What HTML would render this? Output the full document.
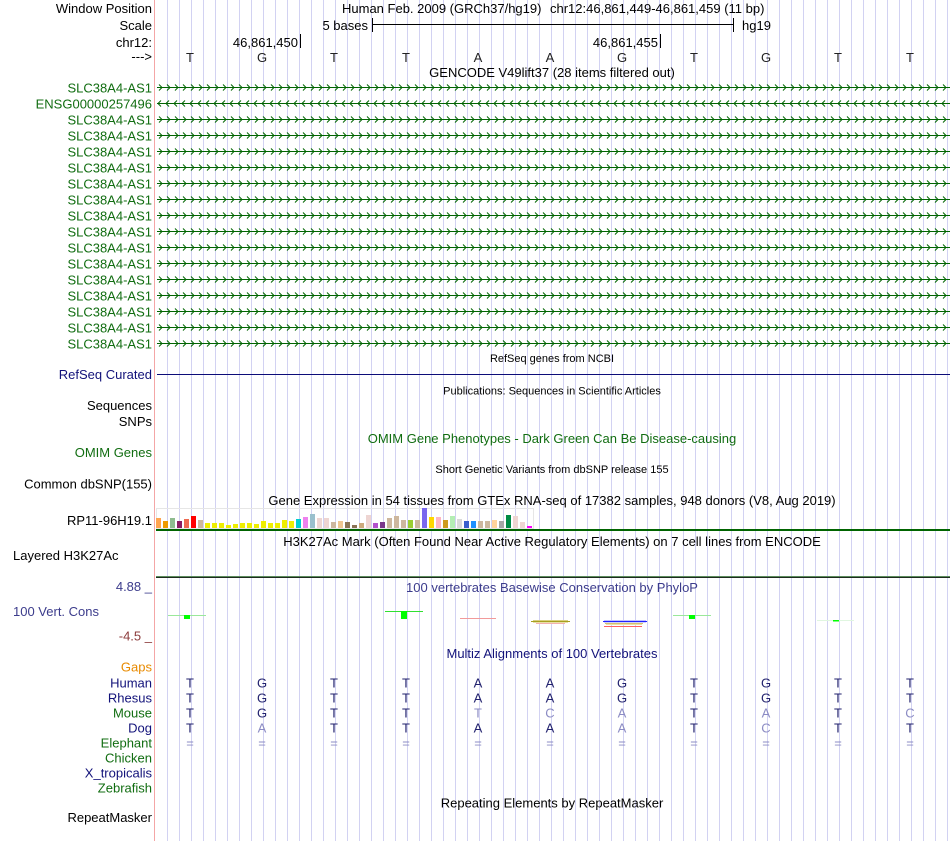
<!DOCTYPE html>
<html>
<head>
<meta charset="utf-8">
<style>
html,body{margin:0;padding:0;background:#fff;}
svg{display:block;}
text{font-family:"Liberation Sans",Arial,Helvetica,sans-serif;font-size:13px;}
.s{font-size:11px;}
.r{text-anchor:end;}
.m{text-anchor:middle;}
.g{fill:#116d11;}
.nv{fill:#12127a;}
.cb{fill:#3c3c8c;}
.dk{fill:#22226e;}
.lt{fill:#8c8cc4;}
</style>
</head>
<body>
<svg width="950" height="841" viewBox="0 0 950 841" xmlns="http://www.w3.org/2000/svg">
<defs>
  <pattern id="grid" patternUnits="userSpaceOnUse" x="167" y="0" width="12" height="841">
    <rect x="0" y="0" width="1" height="841" fill="#d2d2f2"/>
  </pattern>
  <pattern id="fwd" patternUnits="userSpaceOnUse" x="157" y="0" width="8" height="16">
    <rect x="0" y="7" width="8" height="1" fill="#006400"/>
    <path d="M2,4.5 L5,7.5 L2,10.5" stroke="#006400" stroke-width="1" fill="none"/>
  </pattern>
  <pattern id="rev" patternUnits="userSpaceOnUse" x="157" y="0" width="8" height="16">
    <rect x="0" y="7" width="8" height="1" fill="#006400"/>
    <path d="M4,4.5 L1,7.5 L4,10.5" stroke="#006400" stroke-width="1" fill="none"/>
  </pattern>
</defs>

<rect x="0" y="0" width="950" height="841" fill="#fff"/>
<rect x="167" y="0" width="783" height="841" fill="url(#grid)"/>
<rect x="154" y="0" width="1" height="841" fill="#f4a6a6"/>

<!-- Header -->
<text x="152" y="13" class="r">Window Position</text>
<text x="342" y="13">Human Feb. 2009 (GRCh37/hg19)</text>
<text x="550" y="13">chr12:46,861,449-46,861,459 (11 bp)</text>
<text x="152" y="30" class="r">Scale</text>
<text x="368" y="30" class="r">5 bases</text>
<rect x="372" y="24" width="361" height="1" fill="#000"/>
<rect x="372" y="18" width="1" height="14" fill="#000"/>
<rect x="733" y="18" width="1" height="14" fill="#000"/>
<text x="742" y="30">hg19</text>
<text x="152" y="47" class="r">chr12:</text>
<text x="298" y="47" class="r">46,861,450</text>
<rect x="300" y="34" width="1" height="14" fill="#000"/>
<text x="658" y="47" class="r">46,861,455</text>
<rect x="660" y="34" width="1" height="14" fill="#000"/>
<text x="152" y="61" class="r">---&gt;</text>
<g fill="#222">
<text x="190" y="62" class="m">T</text>
<text x="262" y="62" class="m">G</text>
<text x="334" y="62" class="m">T</text>
<text x="406" y="62" class="m">T</text>
<text x="478" y="62" class="m">A</text>
<text x="550" y="62" class="m">A</text>
<text x="622" y="62" class="m">G</text>
<text x="694" y="62" class="m">T</text>
<text x="766" y="62" class="m">G</text>
<text x="838" y="62" class="m">T</text>
<text x="910" y="62" class="m">T</text>
</g>
<text x="552" y="77" class="m">GENCODE V49lift37 (28 items filtered out)</text>

<!-- GENCODE rows -->
<rect x="157" y="84" width="793" height="7" fill="url(#fwd)"/>
<rect x="157" y="100" width="793" height="7" fill="url(#rev)"/>
<rect x="157" y="116" width="793" height="231" fill="url(#fwd)"/>
<g class="g">
<text x="152" y="92.5" class="r">SLC38A4-AS1</text>
<text x="152" y="108.5" class="r">ENSG00000257496</text>
<text x="152" y="124.5" class="r">SLC38A4-AS1</text>
<text x="152" y="140.5" class="r">SLC38A4-AS1</text>
<text x="152" y="156.5" class="r">SLC38A4-AS1</text>
<text x="152" y="172.5" class="r">SLC38A4-AS1</text>
<text x="152" y="188.5" class="r">SLC38A4-AS1</text>
<text x="152" y="204.5" class="r">SLC38A4-AS1</text>
<text x="152" y="220.5" class="r">SLC38A4-AS1</text>
<text x="152" y="236.5" class="r">SLC38A4-AS1</text>
<text x="152" y="252.5" class="r">SLC38A4-AS1</text>
<text x="152" y="268.5" class="r">SLC38A4-AS1</text>
<text x="152" y="284.5" class="r">SLC38A4-AS1</text>
<text x="152" y="300.5" class="r">SLC38A4-AS1</text>
<text x="152" y="316.5" class="r">SLC38A4-AS1</text>
<text x="152" y="332.5" class="r">SLC38A4-AS1</text>
<text x="152" y="348.5" class="r">SLC38A4-AS1</text>
</g>

<!-- RefSeq -->
<text x="552" y="362" class="s m">RefSeq genes from NCBI</text>
<text x="152" y="379" class="r nv">RefSeq Curated</text>
<rect x="157" y="374" width="793" height="1" fill="#0c0c78"/>

<text x="552" y="394.5" class="s m">Publications: Sequences in Scientific Articles</text>
<text x="152" y="410" class="r">Sequences</text>
<text x="152" y="426" class="r">SNPs</text>

<text x="552" y="443" class="m g">OMIM Gene Phenotypes - Dark Green Can Be Disease-causing</text>
<text x="152" y="457" class="r g">OMIM Genes</text>

<text x="552" y="473" class="s m">Short Genetic Variants from dbSNP release 155</text>
<text x="152" y="488.5" class="r">Common dbSNP(155)</text>

<text x="552" y="505" class="m">Gene Expression in 54 tissues from GTEx RNA-seq of 17382 samples, 948 donors (V8, Aug 2019)</text>
<text x="152" y="525" class="r">RP11-96H19.1</text>
<rect x="156.5" y="508.5" width="377" height="20" fill="none" stroke="#e6e6e6" stroke-width="1"/>
<g>
<rect x="156" y="518" width="5" height="10" fill="#FFA54F"/>
<rect x="163" y="521" width="5" height="7" fill="#EE9A00"/>
<rect x="170" y="518" width="5" height="10" fill="#8FBC8F"/>
<rect x="177" y="521" width="5" height="7" fill="#8B1C62"/>
<rect x="184" y="519" width="5" height="9" fill="#EE6A50"/>
<rect x="191" y="516" width="5" height="12" fill="#FF0000"/>
<rect x="198" y="520" width="5" height="8" fill="#CDB79E"/>
<rect x="205" y="523" width="5" height="5" fill="#EEEE00"/>
<rect x="212" y="523" width="5" height="5" fill="#EEEE00"/>
<rect x="219" y="523" width="5" height="5" fill="#EEEE00"/>
<rect x="226" y="525" width="5" height="3" fill="#EEEE00"/>
<rect x="233" y="524" width="5" height="4" fill="#EEEE00"/>
<rect x="240" y="523" width="5" height="5" fill="#EEEE00"/>
<rect x="247" y="523" width="5" height="5" fill="#EEEE00"/>
<rect x="254" y="524" width="5" height="4" fill="#EEEE00"/>
<rect x="261" y="521" width="5" height="7" fill="#EEEE00"/>
<rect x="268" y="523" width="5" height="5" fill="#EEEE00"/>
<rect x="275" y="523" width="5" height="5" fill="#EEEE00"/>
<rect x="282" y="520" width="5" height="8" fill="#EEEE00"/>
<rect x="289" y="521" width="5" height="7" fill="#EEEE00"/>
<rect x="296" y="519" width="5" height="9" fill="#00CED1"/>
<rect x="303" y="517" width="5" height="11" fill="#EE82EE"/>
<rect x="310" y="514" width="5" height="14" fill="#9AC0CD"/>
<rect x="317" y="518" width="5" height="10" fill="#EED5D2"/>
<rect x="324" y="518" width="5" height="10" fill="#EED5D2"/>
<rect x="331" y="522" width="5" height="6" fill="#CDB79E"/>
<rect x="338" y="521" width="5" height="7" fill="#EEC591"/>
<rect x="345" y="522" width="5" height="6" fill="#8B7355"/>
<rect x="352" y="525" width="5" height="3" fill="#8B7355"/>
<rect x="359" y="523" width="5" height="5" fill="#CDAA7D"/>
<rect x="366" y="515" width="5" height="13" fill="#EED5D2"/>
<rect x="373" y="523" width="5" height="5" fill="#B452CD"/>
<rect x="380" y="522" width="5" height="6" fill="#7A378B"/>
<rect x="387" y="518" width="5" height="10" fill="#CDB79E"/>
<rect x="394" y="516" width="5" height="12" fill="#CDB79E"/>
<rect x="401" y="520" width="5" height="8" fill="#CDB79E"/>
<rect x="408" y="520" width="5" height="8" fill="#9ACD32"/>
<rect x="415" y="520" width="5" height="8" fill="#CDB79E"/>
<rect x="422" y="508" width="5" height="20" fill="#7A67EE"/>
<rect x="429" y="517" width="5" height="11" fill="#FFD700"/>
<rect x="436" y="517" width="5" height="11" fill="#FFB6C1"/>
<rect x="443" y="520" width="5" height="8" fill="#CD9B1D"/>
<rect x="450" y="516" width="5" height="12" fill="#B4EEB4"/>
<rect x="457" y="519" width="5" height="9" fill="#D9D9D9"/>
<rect x="464" y="521" width="5" height="7" fill="#3A5FCD"/>
<rect x="471" y="521" width="5" height="7" fill="#1E90FF"/>
<rect x="478" y="521" width="5" height="7" fill="#CDB79E"/>
<rect x="485" y="521" width="5" height="7" fill="#CDB79E"/>
<rect x="492" y="520" width="5" height="8" fill="#FFD39B"/>
<rect x="499" y="521" width="5" height="7" fill="#A6A6A6"/>
<rect x="506" y="515" width="5" height="13" fill="#008B45"/>
<rect x="513" y="516" width="5" height="12" fill="#EED5D2"/>
<rect x="520" y="522" width="5" height="6" fill="#EED5D2"/>
<rect x="527" y="526" width="5" height="2" fill="#FF00FF"/>
</g>
<rect x="156" y="529" width="794" height="2" fill="#006400"/>

<!-- H3K27Ac -->
<text x="552" y="546" class="m">H3K27Ac Mark (Often Found Near Active Regulatory Elements) on 7 cell lines from ENCODE</text>
<text x="13" y="560">Layered H3K27Ac</text>
<rect x="156" y="576" width="794" height="1" fill="#5c8c5c"/>
<rect x="156" y="577" width="794" height="1" fill="#1c2c1c"/>

<!-- Conservation -->
<text x="152" y="591" class="r cb">4.88 _</text>
<text x="552" y="592" class="m cb">100 vertebrates Basewise Conservation by PhyloP</text>
<text x="13" y="616" class="cb">100 Vert. Cons</text>
<text x="152" y="640.5" class="r" fill="#8c3c3c">-4.5 _</text>
<rect x="168" y="615" width="38" height="1" fill="#9ae89a"/>
<rect x="184" y="615" width="6" height="4" fill="#00ff00"/>
<rect x="385" y="611" width="38" height="1" fill="#30e030"/>
<rect x="401" y="611" width="6" height="8" fill="#00ff00"/>
<rect x="460" y="618" width="36" height="1" fill="#f29a9a"/>
<rect x="533" y="620" width="35" height="1" fill="#d8d080"/>
<rect x="531" y="621" width="39" height="1" fill="#a8a020"/>
<rect x="533" y="622" width="35" height="1" fill="#e8e0a8"/>
<rect x="536" y="623" width="29" height="1" fill="#f4b0b0"/>
<rect x="604" y="620" width="42" height="1" fill="#c0c0ff"/>
<rect x="603" y="621" width="44" height="1" fill="#2020ff"/>
<rect x="604" y="622" width="42" height="1" fill="#d0d0f8"/>
<rect x="605" y="623" width="38" height="1" fill="#d0c070"/>
<rect x="606" y="624" width="36" height="1" fill="#e8e0a8"/>
<rect x="604" y="626" width="38" height="1" fill="#ff6060"/>
<rect x="673" y="615" width="38" height="1" fill="#9ae89a"/>
<rect x="689" y="615" width="6" height="4" fill="#00ff00"/>
<rect x="817" y="620" width="37" height="1" fill="#e0f6e0"/>
<rect x="833" y="620" width="6" height="1.5" fill="#00ff00"/>

<!-- Multiz -->
<text x="552" y="658" class="m nv">Multiz Alignments of 100 Vertebrates</text>
<text x="152" y="671.5" class="r" fill="#e88a00">Gaps</text>
<text x="152" y="687.5" class="r nv">Human</text>
<text x="152" y="702.5" class="r nv">Rhesus</text>
<text x="152" y="717.5" class="r g">Mouse</text>
<text x="152" y="732.5" class="r nv">Dog</text>
<text x="152" y="747.5" class="r g">Elephant</text>
<text x="152" y="762.5" class="r g">Chicken</text>
<text x="152" y="777.5" class="r nv">X_tropicalis</text>
<text x="152" y="792.5" class="r g">Zebrafish</text>

<g>
<text x="190" y="687.5" class="m dk">T</text><text x="262" y="687.5" class="m dk">G</text><text x="334" y="687.5" class="m dk">T</text><text x="406" y="687.5" class="m dk">T</text><text x="478" y="687.5" class="m dk">A</text><text x="550" y="687.5" class="m dk">A</text><text x="622" y="687.5" class="m dk">G</text><text x="694" y="687.5" class="m dk">T</text><text x="766" y="687.5" class="m dk">G</text><text x="838" y="687.5" class="m dk">T</text><text x="910" y="687.5" class="m dk">T</text>
<text x="190" y="702.5" class="m dk">T</text><text x="262" y="702.5" class="m dk">G</text><text x="334" y="702.5" class="m dk">T</text><text x="406" y="702.5" class="m dk">T</text><text x="478" y="702.5" class="m dk">A</text><text x="550" y="702.5" class="m dk">A</text><text x="622" y="702.5" class="m dk">G</text><text x="694" y="702.5" class="m dk">T</text><text x="766" y="702.5" class="m dk">G</text><text x="838" y="702.5" class="m dk">T</text><text x="910" y="702.5" class="m dk">T</text>
<text x="190" y="717.5" class="m dk">T</text><text x="262" y="717.5" class="m dk">G</text><text x="334" y="717.5" class="m dk">T</text><text x="406" y="717.5" class="m dk">T</text><text x="478" y="717.5" class="m lt">T</text><text x="550" y="717.5" class="m lt">C</text><text x="622" y="717.5" class="m lt">A</text><text x="694" y="717.5" class="m dk">T</text><text x="766" y="717.5" class="m lt">A</text><text x="838" y="717.5" class="m dk">T</text><text x="910" y="717.5" class="m lt">C</text>
<text x="190" y="732.5" class="m dk">T</text><text x="262" y="732.5" class="m lt">A</text><text x="334" y="732.5" class="m dk">T</text><text x="406" y="732.5" class="m dk">T</text><text x="478" y="732.5" class="m dk">A</text><text x="550" y="732.5" class="m dk">A</text><text x="622" y="732.5" class="m lt">A</text><text x="694" y="732.5" class="m dk">T</text><text x="766" y="732.5" class="m lt">C</text><text x="838" y="732.5" class="m dk">T</text><text x="910" y="732.5" class="m dk">T</text>
<text x="190" y="747.5" class="m lt">=</text><text x="262" y="747.5" class="m lt">=</text><text x="334" y="747.5" class="m lt">=</text><text x="406" y="747.5" class="m lt">=</text><text x="478" y="747.5" class="m lt">=</text><text x="550" y="747.5" class="m lt">=</text><text x="622" y="747.5" class="m lt">=</text><text x="694" y="747.5" class="m lt">=</text><text x="766" y="747.5" class="m lt">=</text><text x="838" y="747.5" class="m lt">=</text><text x="910" y="747.5" class="m lt">=</text>
</g>

<!-- RepeatMasker -->
<text x="552" y="807.5" class="m">Repeating Elements by RepeatMasker</text>
<text x="152" y="822" class="r">RepeatMasker</text>
</svg>
</body>
</html>
